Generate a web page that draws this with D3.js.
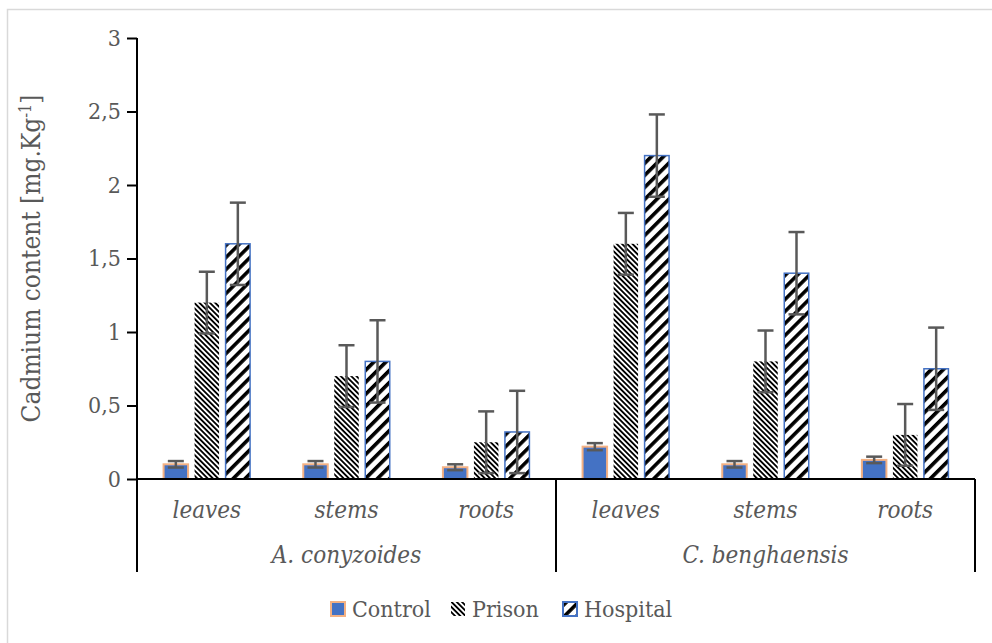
<!DOCTYPE html>
<html>
<head>
<meta charset="utf-8">
<script src="https://cdn.jsdelivr.net/npm/d3@7/dist/d3.min.js"></script>
<style>
  html, body { margin: 0; padding: 0; background: #fff; }
  svg { display: block; }
  text { font-family: "DejaVu Serif Condensed", "DejaVu Serif", "Liberation Serif", serif; fill: #595959; }
</style>
</head>
<body>
<svg id="chart" width="992" height="643"></svg>
<script>
const categories = ["leaves", "stems", "roots", "leaves", "stems", "roots"];
const groups = ["A. conyzoides", "C. benghaensis"];
const series = ["Control", "Prison", "Hospital"];
const control = [0.10, 0.10, 0.08, 0.22, 0.10, 0.13];
const prison = [1.20, 0.70, 0.25, 1.60, 0.80, 0.30];
const hospital = [1.60, 0.80, 0.32, 2.20, 1.40, 0.75];
const controlErr = [0.022, 0.022, 0.02, 0.024, 0.022, 0.022];
const prisonErr = [0.21, 0.21, 0.21, 0.21, 0.21, 0.21];
const hospitalErr = [0.28, 0.28, 0.28, 0.28, 0.28, 0.28];
const yTicks = [0, 0.5, 1, 1.5, 2, 2.5, 3];
const yTickLabels = ["0", "0,5", "1", "1,5", "2", "2,5", "3"];

const values = [control, prison, hospital];
const errors = [controlErr, prisonErr, hospitalErr];

const svg = d3.select("#chart");
const M = { left: 137, right: 975, top: 38, bottom: 479, catBottom: 572 };

// outer chart border
svg.append("rect").attr("x", 7.5).attr("y", 9.5).attr("width", 1000).attr("height", 700)
  .attr("fill", "none").attr("stroke", "#d9d9d9").attr("stroke-width", 1.5);

// patterns
const defs = svg.append("defs");
const pPrison = defs.append("pattern").attr("id", "pPrison").attr("patternUnits", "userSpaceOnUse")
  .attr("width", 3.7).attr("height", 3.7).attr("patternTransform", "rotate(-45)");
pPrison.append("rect").attr("width", 3.7).attr("height", 3.7).attr("fill", "#fff");
pPrison.append("rect").attr("width", 1.85).attr("height", 3.7).attr("fill", "#000");
const pHosp = defs.append("pattern").attr("id", "pHosp").attr("patternUnits", "userSpaceOnUse")
  .attr("width", 8.5).attr("height", 8.5).attr("patternTransform", "rotate(45)");
pHosp.append("rect").attr("width", 8.5).attr("height", 8.5).attr("fill", "#fff");
pHosp.append("rect").attr("width", 3.6).attr("height", 8.5).attr("fill", "#000");

const fills = ["#4472C4", "url(#pPrison)", "url(#pHosp)"];
const strokes = ["#F4B183", "none", "#4472C4"];
const strokeW = [2, 0, 1.5];

const y = d3.scaleLinear().domain([0, 3]).range([M.bottom, M.top]);
const idx = d3.range(categories.length);
const x0 = d3.scaleBand().domain(idx).range([M.left, M.right]).padding(0);
const x1 = d3.scaleBand().domain(series).range([-43.25, 43.25]).paddingInner(0.21);

// bars
series.forEach((s, si) => {
  svg.append("g").selectAll("rect").data(idx).join("rect")
    .attr("x", i => x0(i) + x0.bandwidth() / 2 + x1(s))
    .attr("y", i => y(values[si][i]))
    .attr("width", x1.bandwidth())
    .attr("height", i => y(0) - y(values[si][i]))
    .attr("fill", fills[si])
    .attr("stroke", strokes[si])
    .attr("stroke-width", strokeW[si]);
});

// error bars
series.forEach((s, si) => {
  const g = svg.append("g").attr("stroke", "#595959").attr("stroke-width", 2.5);
  idx.forEach(i => {
    const cx = x0(i) + x0.bandwidth() / 2 + x1(s) + x1.bandwidth() / 2;
    const v = values[si][i], e = errors[si][i];
    const lo = Math.max(0, v - e);
    g.append("line").attr("x1", cx).attr("x2", cx).attr("y1", y(v + e)).attr("y2", y(lo));
    g.append("line").attr("x1", cx - 8).attr("x2", cx + 8).attr("y1", y(v + e)).attr("y2", y(v + e));
    g.append("line").attr("x1", cx - 8).attr("x2", cx + 8).attr("y1", y(lo)).attr("y2", y(lo));
  });
});

// y axis
const yAxis = d3.axisLeft(y).tickValues(yTicks).tickFormat((d, i) => yTickLabels[i]).tickSizeOuter(0).tickSize(10).tickPadding(6);
const ya = svg.append("g").attr("transform", `translate(${M.left},0)`).call(yAxis);
ya.select(".domain").remove();
ya.selectAll(".tick line").attr("stroke", "#000").attr("stroke-width", 2);
ya.selectAll(".tick text").style("font-size", "23px").attr("fill", "#595959")
  .style("font-family", '"DejaVu Serif Condensed", "DejaVu Serif", serif');

// axis lines
const axisG = svg.append("g").attr("stroke", "#000").attr("stroke-width", 2).attr("fill", "none");
axisG.append("line").attr("x1", M.left).attr("x2", M.left).attr("y1", M.top).attr("y2", M.catBottom);
axisG.append("line").attr("x1", M.left).attr("x2", M.right).attr("y1", M.bottom).attr("y2", M.bottom);
const midX = x0(3);
axisG.append("line").attr("x1", midX).attr("x2", midX).attr("y1", M.bottom).attr("y2", M.catBottom);
axisG.append("line").attr("x1", M.right).attr("x2", M.right).attr("y1", M.bottom).attr("y2", M.catBottom);

// category labels
svg.append("g").selectAll("text").data(idx).join("text")
  .attr("x", i => x0(i) + x0.bandwidth() / 2)
  .attr("y", 518)
  .attr("text-anchor", "middle")
  .style("font-size", "24px").style("font-style", "italic")
  .text(i => categories[i]);

svg.append("g").selectAll("text").data(groups).join("text")
  .attr("x", (d, gi) => (x0(gi * 3) + x0(gi * 3 + 2) + x0.bandwidth()) / 2)
  .attr("y", 563)
  .attr("text-anchor", "middle")
  .style("font-size", "24px").style("font-style", "italic")
  .text(d => d);

// y title
svg.append("text")
  .attr("transform", `translate(40,${(M.top + M.bottom) / 2}) rotate(-90)`)
  .attr("text-anchor", "middle")
  .style("font-size", "26px")
  .html('Cadmium content [mg.Kg<tspan dy="-9" font-size="16px">-1</tspan><tspan dy="9">]</tspan>');

// legend
const legendX = [331, 451, 563];
const lg = svg.append("g");
series.forEach((s, si) => {
  lg.append("rect").attr("x", legendX[si]).attr("y", 602).attr("width", 14).attr("height", 14)
    .attr("fill", fills[si])
    .attr("stroke", si === 1 ? "none" : strokes[si]).attr("stroke-width", 2);
  lg.append("text").attr("x", legendX[si] + 21).attr("y", 617)
    .style("font-size", "23px").text(s);
});
</script>
</body>
</html>
